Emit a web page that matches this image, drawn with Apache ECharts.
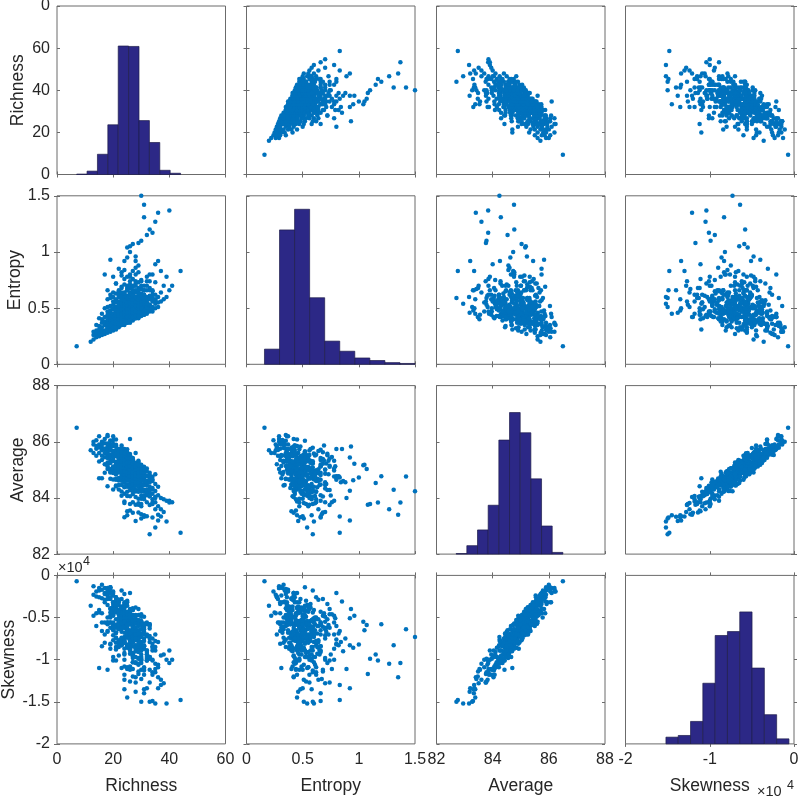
<!DOCTYPE html>
<html lang="en">
<head>
  <meta charset="UTF-8">
  <title>Scatter plot matrix: Richness, Entropy, Average, Skewness</title>
  <script src="https://cdn.jsdelivr.net/npm/echarts@6/dist/echarts.min.js"></script>
  <style>html, body { margin: 0; background: #fff; }</style>
</head>
<body>
  <div id="main" style="width: 800px; height: 796px;"></div>

  <script>
    const names = ['Richness', 'Entropy', 'Average', 'Skewness'];

    // observations, same order in all four arrays (one line per richness value)
    const richness = [
      7,
      12,
      13, 13, 13,
      14, 14, 14, 14,
      15, 15, 15, 15, 15, 15,
      16, 16, 16, 16, 16, 16, 16,
      17, 17, 17, 17, 17, 17, 17, 17,
      18, 18, 18, 18, 18, 18, 18, 18, 18, 18, 18,
      19, 19, 19, 19, 19, 19, 19, 19, 19, 19, 19,
      20, 20, 20, 20, 20, 20, 20, 20, 20, 20, 20, 20, 20, 20,
      21, 21, 21, 21, 21, 21, 21, 21, 21, 21, 21, 21, 21, 21, 21,
      22, 22, 22, 22, 22, 22, 22, 22, 22, 22, 22, 22, 22, 22, 22, 22, 22,
      23, 23, 23, 23, 23, 23, 23, 23, 23, 23, 23, 23, 23, 23, 23, 23, 23, 23, 23,
      24, 24, 24, 24, 24, 24, 24, 24, 24, 24, 24, 24, 24, 24, 24, 24, 24, 24, 24, 24, 24,
      25, 25, 25, 25, 25, 25, 25, 25, 25, 25, 25, 25, 25, 25, 25, 25, 25, 25, 25, 25, 25, 25,
      26, 26, 26, 26, 26, 26, 26, 26, 26, 26, 26, 26, 26, 26, 26, 26, 26, 26, 26, 26, 26, 26,
      27, 27, 27, 27, 27, 27, 27, 27, 27, 27, 27, 27, 27, 27, 27, 27, 27, 27, 27, 27,
      28, 28, 28, 28, 28, 28, 28, 28, 28, 28, 28, 28, 28, 28, 28, 28, 28, 28, 28, 28,
      29, 29, 29, 29, 29, 29, 29, 29, 29, 29, 29, 29, 29, 29, 29, 29, 29,
      30, 30, 30, 30, 30, 30, 30, 30, 30, 30, 30, 30, 30, 30, 30, 30,
      31, 31, 31, 31, 31, 31, 31, 31, 31, 31, 31, 31, 31,
      32, 32, 32, 32, 32, 32, 32, 32, 32, 32, 32,
      33, 33, 33, 33, 33, 33, 33, 33, 33,
      34, 34, 34, 34, 34, 34, 34,
      35, 35, 35, 35, 35, 35,
      36, 36, 36, 36, 36,
      37, 37, 37,
      38, 38,
      39, 39,
      40, 40,
      41,
      44,
      // core of the cloud
      18, 18, 18, 18,
      19, 19, 19, 19, 19, 19,
      20, 20, 20, 20, 20, 20, 20, 20,
      21, 21, 21, 21, 21, 21, 21, 21, 21, 21,
      22, 22, 22, 22, 22, 22, 22, 22, 22, 22, 22, 22,
      23, 23, 23, 23, 23, 23, 23, 23, 23, 23, 23, 23, 23, 23,
      24, 24, 24, 24, 24, 24, 24, 24, 24, 24, 24, 24, 24, 24, 24,
      25, 25, 25, 25, 25, 25, 25, 25, 25, 25, 25, 25, 25, 25, 25, 25,
      26, 26, 26, 26, 26, 26, 26, 26, 26, 26, 26, 26, 26, 26, 26, 26,
      27, 27, 27, 27, 27, 27, 27, 27, 27, 27, 27, 27, 27, 27, 27,
      28, 28, 28, 28, 28, 28, 28, 28, 28, 28, 28, 28, 28,
      29, 29, 29, 29, 29, 29, 29, 29, 29, 29, 29,
      30, 30, 30, 30, 30, 30, 30, 30, 30,
      31, 31, 31, 31, 31, 31, 31,
      32, 32, 32, 32, 32,
      33, 33, 33, 33,
      34, 34, 34,
      35, 35
    ];
    const entropy = [
      0.16,
      0.20,
      0.26, 0.22, 0.29,
      0.30, 0.24, 0.35, 0.27,
      0.34, 0.25, 0.29, 0.41, 0.31, 0.27,
      0.37, 0.28, 0.45, 0.26, 0.33, 0.30, 0.40,
      0.42, 0.30, 0.27, 0.35, 0.50, 0.80, 0.38, 0.29,
      0.39, 0.28, 0.47, 0.33, 0.36, 0.31, 0.58, 0.42, 0.30, 0.66, 0.35,
      0.45, 0.33, 0.29, 0.52, 0.38, 0.41, 0.31, 0.36, 0.62, 0.93, 0.48,
      0.41, 0.35, 0.53, 0.31, 0.44, 0.38, 0.30, 0.60, 0.34, 0.49, 0.78, 0.32, 0.45, 0.37,
      0.47, 0.36, 0.32, 0.55, 0.40, 0.34, 0.63, 0.43, 0.38, 0.51, 0.33, 0.45, 0.72, 0.39, 0.58,
      0.44, 0.37, 0.56, 0.33, 0.48, 0.41, 0.35, 0.66, 0.39, 0.52, 0.34, 0.46, 0.85, 0.61, 0.42, 0.36, 0.50,
      0.49, 0.38, 0.35, 0.57, 0.43, 0.52, 0.40, 0.69, 0.36, 0.47, 0.62, 0.41, 0.79, 0.37, 0.54, 0.45, 0.39, 0.82, 0.59,
      0.42, 0.53, 0.38, 0.47, 0.60, 0.36, 0.44, 0.57, 0.40, 0.71, 0.49, 0.37, 0.92, 0.64, 0.45, 0.39, 0.55, 0.84, 0.43, 0.51, 0.48,
      0.50, 0.39, 0.58, 0.44, 0.37, 0.66, 0.46, 0.53, 0.78, 0.41, 0.48, 0.61, 1.04, 0.38, 0.55, 0.43, 0.70, 0.95, 0.47, 0.40, 0.52, 0.45,
      0.45, 0.58, 0.40, 0.51, 0.64, 0.38, 0.48, 0.43, 0.80, 0.56, 0.41, 0.74, 1.05, 0.47, 0.53, 0.39, 0.61, 1.00, 0.50, 0.44, 0.68, 0.42,
      0.52, 0.41, 0.47, 0.62, 0.44, 0.57, 0.39, 0.69, 0.83, 0.50, 0.43, 0.59, 1.07, 0.46, 0.76, 0.40, 0.54, 0.48, 0.42, 0.65,
      0.47, 0.60, 0.43, 0.54, 0.41, 0.50, 0.72, 0.45, 0.86, 0.58, 0.42, 0.64, 0.96, 0.49, 0.56, 0.44, 0.80, 0.92, 0.52, 0.46,
      0.55, 0.44, 0.49, 0.66, 0.42, 0.58, 0.47, 0.73, 0.88, 0.45, 0.61, 0.51, 1.08, 0.43, 0.68, 0.53, 0.48,
      0.49, 0.57, 0.44, 0.63, 0.52, 0.46, 0.75, 0.43, 1.50, 0.59, 0.47, 0.54, 1.10, 0.45, 0.67, 0.51,
      0.51, 0.46, 0.62, 0.49, 0.70, 0.44, 0.56, 0.53, 1.42, 0.47, 1.31, 0.58, 0.66,
      0.55, 0.48, 0.66, 0.45, 0.52, 0.60, 0.47, 1.15, 0.78, 0.50, 0.57,
      0.53, 0.47, 0.68, 0.50, 0.58, 1.20, 0.59, 0.49, 0.74,
      0.56, 0.49, 0.62, 1.17, 0.51, 0.66, 0.80,
      0.50, 0.58, 1.27, 0.89, 0.54, 0.62,
      0.51, 1.35, 0.92, 0.60, 0.55,
      0.83, 0.56, 0.64,
      0.58, 0.70,
      0.60, 0.78,
      1.37, 0.66,
      0.70,
      0.83,
      // core of the cloud
      0.36, 0.44, 0.32, 0.51,
      0.40, 0.30, 0.48, 0.42, 0.59, 0.35,
      0.40, 0.56, 0.33, 0.45, 0.50, 0.37, 0.64, 0.42,
      0.31, 0.49, 0.40, 0.56, 0.36, 0.45, 0.72, 0.33, 0.48, 0.42,
      0.54, 0.40, 0.60, 0.36, 0.45, 0.51, 0.39, 0.64, 0.42, 0.40, 0.48, 0.36,
      0.57, 0.45, 0.35, 0.53, 0.47, 0.64, 0.40, 0.44, 0.60, 0.37, 0.49, 0.54, 0.41, 0.68,
      0.47, 0.35, 0.53, 0.44, 0.60, 0.40, 0.49, 0.76, 0.37, 0.52, 0.46, 0.57, 0.43, 0.63, 0.39,
      0.49, 0.55, 0.43, 0.68, 0.46, 0.44, 0.52, 0.40, 0.59, 0.47, 0.37, 0.55, 0.49, 0.66, 0.42, 0.46,
      0.63, 0.40, 0.52, 0.57, 0.44, 0.71, 0.49, 0.37, 0.55, 0.46, 0.62, 0.42, 0.51, 0.78, 0.39, 0.54,
      0.49, 0.60, 0.46, 0.66, 0.42, 0.51, 0.57, 0.45, 0.70, 0.48, 0.46, 0.54, 0.42, 0.61, 0.49,
      0.41, 0.59, 0.53, 0.70, 0.46, 0.50, 0.66, 0.43, 0.55, 0.60, 0.47, 0.74, 0.52,
      0.41, 0.59, 0.50, 0.66, 0.46, 0.55, 0.82, 0.43, 0.58, 0.52, 0.63,
      0.50, 0.70, 0.46, 0.55, 0.61, 0.49, 0.74, 0.52, 0.50,
      0.59, 0.47, 0.66, 0.54, 0.44, 0.62, 0.56,
      0.74, 0.50, 0.54, 0.70, 0.47,
      0.61, 0.66, 0.53, 0.80,
      0.59, 0.47, 0.65,
      0.57, 0.73
    ];
    const average = [
      86.5,
      85.7,
      85.9, 85.6, 86.0,
      85.75, 86.05, 85.5, 85.85,
      85.9, 85.6, 86.2, 85.3, 84.7, 85.8,
      85.9, 85.5, 84.7, 85.7, 86.0, 85.35, 85.8,
      85.6, 85.95, 85.2, 85.75, 85.45, 85.74, 84.9, 86.1,
      85.56, 85.71, 84.42, 85.26, 86.2, 85.53, 85.03, 85.83, 85.49, 85.13, 86.24,
      85.28, 85.78, 85.03, 86.04, 85.53, 84.93, 85.9, 85.35, 85.54, 85.83, 84.68,
      85.48, 85.6, 85.05, 85.49, 84.98, 85.12, 85.92, 84.66, 85.51, 85.01, 85.32, 86.06, 84.3, 86.2,
      85.26, 85.7, 84.83, 85.48, 85.08, 85.89, 84.68, 85.88, 84.9, 85.55, 84.44, 86.08, 85.52, 85.22, 84.41,
      85.29, 85.48, 84.98, 85.3, 85.05, 85.59, 84.68, 85.72, 85.17, 85.41, 84.46, 85.61, 85.74, 84.96, 84.3, 85.43, 84.98,
      85.04, 85.48, 84.67, 85.32, 85.06, 85.66, 84.46, 85.87, 85.01, 85.3, 84.23, 85.58, 85.13, 84.94, 84.08, 85.58, 84.9, 84.75, 85.79,
      84.96, 85.47, 84.66, 85.3, 84.78, 85.53, 84.38, 85.74, 84.93, 85.23, 84.15, 85.5, 85.44, 84.88, 83.87, 85.32, 85.06, 84.56, 85.71, 83.82, 83.31,
      85.03, 85.23, 84.74, 85.13, 84.98, 85.35, 84.45, 85.54, 84.98, 84.92, 84.22, 85.51, 85.16, 84.66, 84.07, 85.21, 85.0, 84.63, 85.73, 83.53, 85.64, 83.38,
      84.8, 85.25, 84.49, 85.13, 84.62, 85.37, 84.41, 85.56, 84.71, 85.07, 84.06, 85.4, 85.18, 84.68, 83.78, 85.24, 84.78, 84.73, 85.5, 83.55, 85.39, 86.1,
      84.87, 85.26, 84.56, 84.91, 84.82, 85.26, 84.35, 85.33, 84.73, 84.83, 84.14, 85.23, 85.03, 84.5, 83.85, 85.04, 84.83, 85.42, 83.47, 84.46,
      84.85, 84.93, 84.43, 84.83, 84.69, 85.18, 84.28, 85.25, 84.6, 84.74, 84.03, 85.02, 85.22, 84.61, 83.76, 84.91, 84.77, 84.26, 85.6, 83.18,
      84.68, 85.13, 84.25, 84.9, 84.49, 85.23, 83.97, 85.32, 84.56, 84.81, 83.81, 85.22, 83.76, 84.55, 83.48, 84.98, 84.53,
      84.72, 84.86, 84.35, 84.63, 84.48, 84.98, 84.09, 85.18, 84.24, 84.78, 83.7, 85.05, 83.78, 84.43, 83.42, 83.27,
      84.63, 84.72, 84.22, 84.81, 84.46, 84.91, 84.07, 85.11, 84.76, 84.7, 84.29, 83.38, 83.33,
      84.45, 84.8, 84.1, 84.6, 84.3, 84.95, 83.85, 84.53, 85.05, 83.35, 84.2,
      84.4, 84.7, 84.05, 84.55, 84.2, 84.77, 82.71, 84.9, 83.75,
      84.3, 84.6, 83.95, 83.84, 84.15, 83.3, 84.75,
      84.25, 84.5, 83.6, 84.0, 82.95, 83.85,
      84.1, 83.4, 83.2, 84.4, 83.7,
      83.34, 84.0, 83.6,
      83.95, 83.5,
      83.16, 83.9,
      83.84, 83.9,
      83.85,
      82.76,
      // core of the cloud
      85.62, 85.19, 85.94, 85.42,
      85.70, 84.91, 85.48, 85.79, 85.24, 86.04,
      84.95, 85.53, 85.32, 85.85, 85.08, 85.44, 84.89, 85.67,
      85.14, 85.50, 84.65, 85.69, 85.29, 85.06, 85.57, 84.92, 85.83, 85.17,
      85.35, 84.71, 85.58, 85.15, 85.44, 84.62, 85.27, 85.67, 85.03, 85.53, 84.91, 85.31,
      85.25, 84.82, 85.57, 85.05, 85.40, 84.61, 85.18, 85.49, 84.94, 85.74, 84.73, 85.31, 85.10, 85.63,
      84.78, 85.14, 84.59, 85.37, 84.91, 85.27, 84.42, 85.46, 85.06, 84.83, 85.34, 84.69, 85.60, 84.94, 85.20,
      84.49, 85.36, 84.93, 85.22, 84.40, 85.05, 85.45, 84.81, 85.31, 84.69, 85.09, 85.10, 84.67, 85.42, 84.90, 85.25,
      84.38, 84.95, 85.26, 84.71, 85.51, 84.50, 85.08, 84.87, 85.40, 84.63, 84.99, 84.44, 85.22, 84.76, 85.12, 84.27,
      85.24, 84.84, 84.61, 85.12, 84.47, 85.38, 84.72, 84.98, 84.34, 85.21, 84.78, 85.07, 84.25, 84.90, 85.30,
      84.58, 85.08, 84.46, 84.86, 84.87, 84.44, 85.19, 84.67, 85.02, 84.23, 84.80, 85.11, 84.56,
      85.29, 84.28, 84.86, 84.65, 85.18, 84.41, 84.77, 84.22, 85.00, 84.54, 84.90,
      83.97, 85.01, 84.61, 84.38, 84.89, 84.24, 85.15, 84.49, 84.75,
      84.04, 84.91, 84.48, 84.77, 83.95, 84.60, 85.00,
      84.28, 84.78, 84.16, 84.56, 84.57,
      84.07, 84.82, 84.30, 84.65,
      83.78, 84.35, 84.66,
      84.04, 84.84
    ];
    // skewness in units of 10^4
    const skewness = [
      -0.07,
      -0.36,
      -0.23, -0.48, -0.13,
      -0.45, -0.19, -0.60, -0.25,
      -0.18, -0.44, -0.15, -0.41, -1.10, -0.26,
      -0.17, -0.56, -0.84, -0.45, -0.11, -0.66, -0.27,
      -0.29, -0.32, -0.70, -0.22, -0.56, -0.21, -0.80, -0.15,
      -0.57, -0.28, -1.12, -0.56, -0.17, -0.24, -0.66, -0.21, -0.58, -0.56, -0.19,
      -0.39, -0.50, -0.56, -0.14, -0.48, -0.87, -0.14, -0.56, -0.26, -0.40, -0.82,
      -0.37, -0.47, -0.59, -0.56, -0.65, -0.43, -0.34, -0.97, -0.32, -0.60, -0.48, -0.32, -1.01, -0.19,
      -0.59, -0.26, -0.68, -0.38, -0.68, -0.31, -0.85, -0.26, -0.74, -0.39, -0.74, -0.32, -0.52, -0.44, -1.01,
      -0.53, -0.51, -0.61, -0.61, -0.58, -0.29, -0.85, -0.43, -0.47, -0.56, -0.78, -0.45, -0.31, -0.79, -0.95, -0.32, -0.62,
      -0.53, -0.37, -0.76, -0.61, -0.50, -0.42, -0.75, -0.45, -0.59, -0.62, -0.83, -0.57, -0.51, -0.57, -1.10, -0.57, -0.55, -0.83, -0.18,
      -0.62, -0.42, -0.87, -0.54, -0.73, -0.35, -1.00, -0.34, -0.53, -0.62, -1.08, -0.38, -0.51, -0.60, -1.18, -0.47, -0.75, -0.79, -0.22, -1.24, -1.35,
      -0.54, -0.58, -0.66, -0.66, -0.65, -0.59, -0.83, -0.30, -0.70, -0.69, -0.84, -0.50, -0.55, -0.85, -1.09, -0.59, -0.55, -0.86, -0.32, -1.11, -0.47, -1.45,
      -0.77, -0.54, -0.89, -0.51, -0.86, -0.46, -0.81, -0.49, -0.82, -0.55, -1.08, -0.40, -0.65, -0.73, -1.26, -0.51, -0.58, -0.82, -0.49, -1.12, -0.48, -0.21,
      -0.65, -0.70, -0.79, -0.52, -0.78, -0.61, -0.80, -0.48, -0.66, -0.76, -1.03, -0.61, -0.59, -0.92, -1.11, -0.47, -0.75, -0.54, -1.20, -0.94,
      -0.86, -0.56, -0.77, -0.71, -0.90, -0.47, -1.04, -0.38, -0.90, -0.67, -1.21, -0.52, -0.48, -0.87, -1.27, -0.48, -0.76, -0.83, -0.55, -1.38,
      -0.78, -0.71, -0.76, -0.70, -0.73, -0.67, -0.99, -0.59, -0.75, -0.86, -1.06, -0.47, -1.17, -0.98, -1.14, -0.70, -0.65,
      -0.84, -0.54, -1.04, -0.69, -0.97, -0.55, -0.94, -0.59, -0.73, -0.85, -1.00, -0.64, -0.99, -1.01, -1.23, -1.50,
      -0.87, -0.59, -1.09, -0.70, -0.75, -0.67, -1.18, -0.49, -0.64, -0.84, -0.83, -1.35, -1.40,
      -0.70, -0.72, -0.91, -0.89, -0.89, -0.71, -1.01, -0.94, -0.56, -1.34, -0.99,
      -0.75, -0.79, -1.12, -0.72, -0.99, -0.58, -1.50, -0.63, -1.27,
      -1.00, -0.75, -1.18, -1.01, -0.86, -1.49, -0.81,
      -0.78, -0.85, -1.05, -1.11, -1.52, -1.15,
      -1.06, -1.21, -1.34, -0.79, -1.09,
      -1.30, -0.95, -1.24,
      -0.94, -1.28,
      -1.52, -1.00,
      -1.04, -0.89,
      -1.00,
      -1.48,
      // core of the cloud
      -0.35, -0.67, -0.15, -0.50,
      -0.28, -0.81, -0.44, -0.21, -0.62, -0.16,
      -0.71, -0.40, -0.64, -0.21, -0.61, -0.40, -0.77, -0.24,
      -0.62, -0.38, -0.88, -0.35, -0.41, -0.68, -0.34, -0.80, -0.28, -0.59,
      -0.35, -0.83, -0.41, -0.52, -0.58, -0.64, -0.56, -0.29, -0.77, -0.42, -0.54, -0.59,
      -0.38, -0.76, -0.39, -0.74, -0.38, -0.79, -0.49, -0.55, -0.51, -0.39, -0.67, -0.63, -0.57, -0.28,
      -0.78, -0.50, -0.92, -0.45, -0.68, -0.38, -0.94, -0.46, -0.56, -0.80, -0.37, -0.78, -0.32, -0.80, -0.55,
      -0.70, -0.58, -0.50, -0.61, -0.82, -0.74, -0.36, -0.70, -0.44, -0.85, -0.46, -0.63, -0.69, -0.59, -0.65, -0.43,
      -0.93, -0.57, -0.67, -0.70, -0.46, -0.67, -0.69, -0.68, -0.43, -0.88, -0.50, -0.87, -0.46, -0.87, -0.58, -0.78,
      -0.62, -0.53, -0.84, -0.56, -0.96, -0.39, -0.74, -0.57, -0.98, -0.41, -0.75, -0.54, -1.03, -0.65, -0.41,
      -0.86, -0.52, -0.97, -0.64, -0.70, -0.69, -0.65, -0.75, -0.57, -1.03, -0.57, -0.62, -0.70,
      -0.67, -0.89, -0.56, -0.84, -0.40, -0.91, -0.69, -1.05, -0.53, -0.81, -0.60,
      -1.12, -0.49, -0.82, -0.80, -0.79, -0.89, -0.46, -0.89, -0.64,
      -1.13, -0.62, -0.84, -0.57, -1.11, -0.78, -0.58,
      -1.01, -0.58, -0.97, -0.71, -0.94,
      -0.97, -0.58, -0.97, -0.60,
      -1.15, -0.84, -0.89,
      -0.89, -0.70
    ];

    // histogram bin edges and counts (diagonal panels)
    const richnessEdges = [7, 10.7, 14.4, 18.1, 21.8, 25.5, 29.2, 32.9, 36.6, 40.3, 44];
    const richnessCounts = [1, 8, 48, 118, 305, 304, 128, 76, 10, 3];
    const entropyEdges = [0.16, 0.294, 0.428, 0.562, 0.696, 0.83, 0.964, 1.098, 1.232, 1.366, 1.5];
    const entropyCounts = [36, 319, 368, 158, 55, 31, 15, 9, 4, 2];
    const averageEdges = [82.7, 83.08, 83.46, 83.84, 84.22, 84.6, 84.98, 85.36, 85.74, 86.12, 86.5];
    const averageCounts = [1, 15, 43, 87, 203, 252, 216, 134, 50, 3];
    const skewnessEdges = [-1.52, -1.374, -1.228, -1.082, -0.936, -0.79, -0.644, -0.498, -0.352, -0.206, -0.06];
    const skewnessCounts = [12, 15, 40, 108, 193, 200, 235, 135, 52, 9];
    const histMax = [400, 400, 300, 300];

    // axis ranges and ticks
    const axisMin = [0, 0, 82, -2];
    const axisMax = [60, 1.5, 88, 0];
    const xTickStep = [20, 0.5, 2, 1];
    const yTickStep = [15, 0.5, 2, 0.5];
    const richnessYLabels = ['0', '20', '40', '60', '0']; // as printed on the top row

    const vars = [richness, entropy, average, skewness];
    const edges = [richnessEdges, entropyEdges, averageEdges, skewnessEdges];
    const counts = [richnessCounts, entropyCounts, averageCounts, skewnessCounts];
    vars.forEach(v => { if (v.length !== richness.length) throw new Error('length mismatch'); });

    const LEFT = [57, 246.5, 436.5, 625.5];
    const TOP = [6, 195.8, 385.6, 575.4];
    const SIDE = 168.5;
    const FONT = "'Liberation Sans', Arial, sans-serif";
    const TEXT = '#262626';
    const FRAME = '#6b6b6b';

    const tick = { show: true, inside: true, length: 3, lineStyle: { color: FRAME, width: 1 } };
    const labelStyle = { color: TEXT, fontSize: 16, fontFamily: FONT };
    const nameStyle = { color: TEXT, fontSize: 17.5, fontFamily: FONT };

    const grids = [], xAxes = [], yAxes = [], series = [];
    for (let r = 0; r < 4; r++) {
      for (let c = 0; c < 4; c++) {
        const g = r * 4 + c;
        grids.push({
          left: LEFT[c], top: TOP[r], width: SIDE, height: SIDE,
          show: true, borderColor: FRAME, borderWidth: 1, outerBoundsMode: 'none'
        });

        const xBase = {
          type: 'value', gridIndex: g, min: axisMin[c], max: axisMax[c], interval: xTickStep[c],
          splitLine: { show: false }, axisLine: { show: false }, axisTick: tick
        };
        xAxes.push(Object.assign({}, xBase, {
          position: 'bottom',
          axisLabel: r === 3 ? Object.assign({ margin: 8 }, labelStyle) : { show: false },
          name: r === 3 ? names[c] : '',
          nameLocation: 'middle', nameGap: 33, nameTextStyle: nameStyle
        }));
        xAxes.push(Object.assign({}, xBase, { position: 'top', axisLabel: { show: false } }));

        const yBase = {
          type: 'value', gridIndex: g, min: axisMin[r], max: axisMax[r], interval: yTickStep[r],
          splitLine: { show: false }, axisLine: { show: false }, axisTick: tick
        };
        const yLabel = c === 0 ? Object.assign({ margin: 7 }, labelStyle) : { show: false };
        if (c === 0 && r === 0) yLabel.formatter = v => richnessYLabels[Math.round(v / 15)];
        yAxes.push(Object.assign({}, yBase, {
          position: 'left',
          axisLabel: yLabel,
          name: c === 0 ? names[r] : '',
          nameLocation: 'middle', nameGap: 30, nameTextStyle: nameStyle
        }));

        if (r === c) {
          // hidden count axis for the histogram
          yAxes.push({ type: 'value', gridIndex: g, position: 'right', min: 0, max: histMax[r], show: false });
          series.push({
            type: 'custom',
            xAxisIndex: 2 * g, yAxisIndex: 2 * g + 1,
            silent: true,
            encode: { x: [0, 1], y: 2 },
            data: counts[r].map((n, i) => [edges[r][i], edges[r][i + 1], n]),
            renderItem: (params, api) => {
              const p0 = api.coord([api.value(0), 0]);
              const p1 = api.coord([api.value(1), api.value(2)]);
              return {
                type: 'rect',
                shape: { x: p0[0], y: p1[1], width: p1[0] - p0[0], height: p0[1] - p1[1] },
                style: { fill: '#2c2886', stroke: '#1e1c4a', lineWidth: 0.7 }
              };
            }
          });
        } else {
          yAxes.push(Object.assign({}, yBase, { position: 'right', axisLabel: { show: false } }));
          series.push({
            type: 'scatter',
            xAxisIndex: 2 * g, yAxisIndex: 2 * g,
            silent: true,
            symbol: 'circle', symbolSize: 4.5,
            itemStyle: { color: '#0072BD', opacity: 1 },
            data: richness.map((_, i) => [vars[c][i], vars[r][i]])
          });
        }
      }
    }

    const chart = echarts.init(document.getElementById('main'), null, { renderer: 'canvas' });
    chart.setOption({
      animation: false,
      backgroundColor: '#fff',
      grid: grids,
      xAxis: xAxes,
      yAxis: yAxes,
      series: series,
      graphic: [
        { type: 'text', left: 58, top: 560, style: { text: '×10', fontSize: 14.5, fontFamily: FONT, fill: TEXT } },
        { type: 'text', left: 83, top: 555, style: { text: '4', fontSize: 12.5, fontFamily: FONT, fill: TEXT } },
        { type: 'text', left: 757, top: 784, style: { text: '×10', fontSize: 14.5, fontFamily: FONT, fill: TEXT } },
        { type: 'text', left: 787, top: 779, style: { text: '4', fontSize: 12.5, fontFamily: FONT, fill: TEXT } }
      ]
    });
  </script>
</body>
</html>
